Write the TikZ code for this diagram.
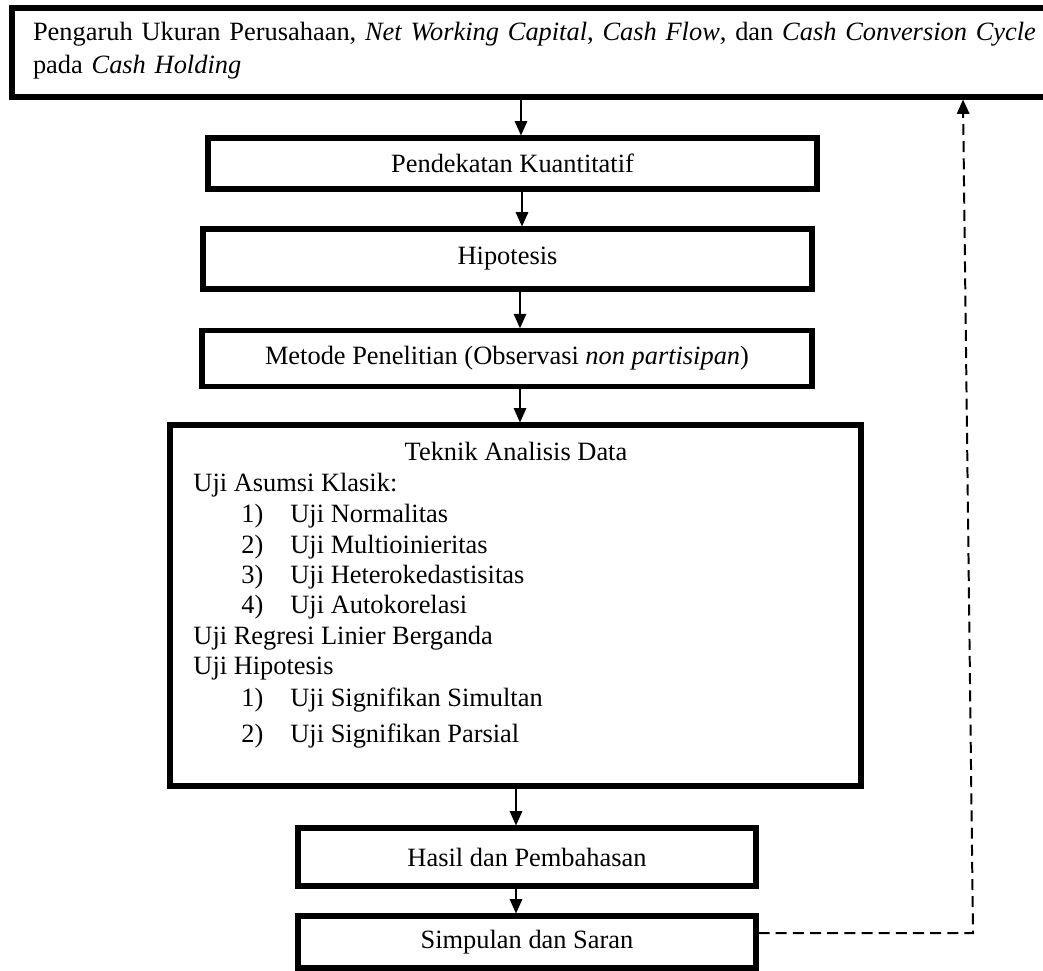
\documentclass[tikz,border=0pt]{standalone}
\usepackage{fontspec}
\setmainfont{Liberation Serif}
\usetikzlibrary{arrows.meta}
\newcommand{\pxu}{0.4545pt}
\begin{document}
\begin{tikzpicture}[x=0.4545pt,y=-0.4545pt,
  box/.style={draw, line width=2.3pt, rectangle, inner sep=0pt, align=center, font=\fontsize{12}{14}\selectfont},
  arr/.style={line width=0.9pt, -{Triangle[length=6.5pt,width=5.6pt]}},
  fb/.style={line width=0.9pt, dash pattern=on 5pt off 2.8pt, -{Triangle[length=6.5pt,width=5.6pt]}},
  txt/.style={inner sep=0pt, anchor=base west, font=\fontsize{12}{14}\selectfont}]
\useasboundingbox (0,0) rectangle (1043,970);

% boxes
\node[box, align=left, text width=1010*\pxu, inner xsep=21*\pxu, minimum height=89*\pxu,
      font=\fontsize{12}{15}\selectfont] (top) at (538,52.5)
  {Pengaruh Ukuran Perusahaan, \emph{Net Working Capital}, \emph{Cash Flow}, dan \emph{Cash Conversion Cycle}\\
   pada \emph{Cash Holding}\rule[-4.6pt]{0pt}{0pt}};
\node[box, minimum width=609*\pxu, minimum height=51*\pxu] (pend) at (512.5,163.5) {Pendekatan Kuantitatif};
\node[box, minimum width=609*\pxu, minimum height=60*\pxu] (hip) at (507.5,259) {Hipotesis};
\node[box, minimum width=610*\pxu, minimum height=55.5*\pxu] (met) at (507,358.5) {Metode Penelitian (Observasi \emph{non partisipan})};
\node[box, minimum width=691*\pxu, minimum height=361*\pxu] (big) at (515.5,605.5) {};
\node[box, minimum width=458*\pxu, minimum height=58*\pxu] (has) at (527,857) {Hasil dan Pembahasan};
\node[box, minimum width=458*\pxu, minimum height=52*\pxu] (simp) at (527,942) {Simpulan dan Saran};

% contents of the analysis box
\node[txt, anchor=base] (t0) at (516,460) {Teknik Analisis Data};
\node[txt] (t1) at (193,491) {Uji Asumsi Klasik:};
\node[txt] (t2) at (241,522) {\makebox[49\dimexpr\pxu\relax][l]{1)}Uji Normalitas};
\node[txt] (t3) at (241,553) {\makebox[49\dimexpr\pxu\relax][l]{2)}Uji Multioinieritas};
\node[txt] (t4) at (241,583) {\makebox[49\dimexpr\pxu\relax][l]{3)}Uji Heterokedastisitas};
\node[txt] (t5) at (241,613) {\makebox[49\dimexpr\pxu\relax][l]{4)}Uji Autokorelasi};
\node[txt] (t6) at (193,644) {Uji Regresi Linier Berganda};
\node[txt] (t7) at (193,674) {Uji Hipotesis};
\node[txt] (t8) at (241,706) {\makebox[49\dimexpr\pxu\relax][l]{1)}Uji Signifikan Simultan};
\node[txt] (t9) at (241,742) {\makebox[49\dimexpr\pxu\relax][l]{2)}Uji Signifikan Parsial};

% arrow columns
\coordinate (xa) at (521,0);
\coordinate (xb) at (522,0);
\coordinate (xc) at (520,0);
\coordinate (xd) at (516,0);
\draw[arr] (top.south -| xa) -- (pend.north -| xa);
\draw[arr] (pend.south -| xb) -- (hip.north -| xb);
\draw[arr] (hip.south -| xc) -- (met.north -| xc);
\draw[arr] (met.south -| xc) -- (big.north -| xc);
\draw[arr] (big.south -| xd) -- (has.north -| xd);
\draw[arr] (has.south -| xd) -- (simp.north -| xd);

% feedback
\coordinate (d1) at (973,933);
\coordinate (d2) at (963,0);
\draw[fb] (simp.east |- d1) -- (d1) -- (d2 |- top.south);
\end{tikzpicture}
\end{document}
